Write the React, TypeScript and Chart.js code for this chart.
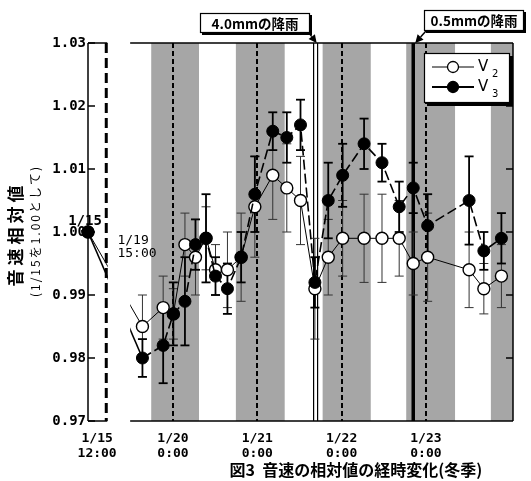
import React, { useEffect, useRef } from 'react';
import { Chart, registerables } from 'chart.js';
Chart.register(...registerables);

// time axis: hours measured from 1/20 0:00 (first entry is the 1/15 reference point on the broken part of the axis)
const timeHours = [-24.2, -8.7, -2.8, 0.1, 3.4, 6.4, 9.4, 12.1, 15.5, 19.4, 23.3, 28.4, 32.4, 36.3, 40.4, 44.2, 48.3, 54.4, 59.5, 64.4, 68.4, 72.5, 84.3, 88.5, 93.5];
const v2Values = [1.000, 0.985, 0.988, 0.987, 0.998, 0.996, 0.999, 0.994, 0.994, 0.996, 1.004, 1.009, 1.007, 1.005, 0.991, 0.996, 0.999, 0.999, 0.999, 0.999, 0.995, 0.996, 0.994, 0.991, 0.993];
const v2Errors = [0, 0.005, 0.005, 0.004, 0.005, 0.006, 0.005, 0.004, 0.006, 0.007, 0.008, 0.007, 0.007, 0.007, 0.008, 0.006, 0.006, 0.007, 0.007, 0.006, 0.005, 0.007, 0.006, 0.004, 0.005];
const v3Values = [1.000, 0.980, 0.982, 0.987, 0.989, 0.998, 0.999, 0.993, 0.991, 0.996, 1.006, 1.016, 1.015, 1.017, 0.992, 1.005, 1.009, 1.014, 1.011, 1.004, 1.007, 1.001, 1.005, 0.997, 0.999];
const v3Errors = [0, 0.003, 0.006, 0.005, 0.007, 0.004, 0.007, 0.003, 0.004, 0.004, 0.006, 0.003, 0.004, 0.004, 0.004, 0.006, 0.005, 0.004, 0.003, 0.004, 0.004, 0.005, 0.007, 0.003, 0.004];

const tickHours = [-21.6, 0, 24, 48, 72];
const tickDates = ['1/15', '1/20', '1/21', '1/22', '1/23'];
const tickTimes = ['12:00', '0:00', '0:00', '0:00', '0:00'];
const midnightHours = [0, 24, 48, 72];
const nightStart = [-6.2, 17.9, 42.6, 66.4, 90.5];
const nightEnd = [7.4, 31.8, 56.3, 80.3, 96.8];
const axisBreak = [-19.0, -12.2];
const rainHours = [40.6, 68.4];
const rainLabels = ['4.0mmの降雨', '0.5mmの降雨'];
const seriesNames = ['V', 'V'];
const seriesSubs = ['2', '3'];
const yTicks = [0.97, 0.98, 0.99, 1.0, 1.01, 1.02, 1.03];

const X_MIN = -24.2;
const X_MAX = 96.8;
const JP = '"Noto Sans CJK JP", "Noto Sans", sans-serif';
const MONO = '"DejaVu Sans Mono", monospace';

function line(ctx: CanvasRenderingContext2D, x1: number, y1: number, x2: number, y2: number) {
  ctx.beginPath();
  ctx.moveTo(x1, y1);
  ctx.lineTo(x2, y2);
  ctx.stroke();
}

function arrow(ctx: CanvasRenderingContext2D, x1: number, y1: number, x2: number, y2: number) {
  ctx.strokeStyle = '#000';
  ctx.fillStyle = '#000';
  ctx.lineWidth = 1.5;
  ctx.setLineDash([]);
  const a = Math.atan2(y2 - y1, x2 - x1);
  const hl = 8;
  const bx = x2 - hl * Math.cos(a);
  const by = y2 - hl * Math.sin(a);
  line(ctx, x1, y1, bx, by);
  ctx.beginPath();
  ctx.moveTo(x2, y2);
  ctx.lineTo(bx + 4 * Math.sin(a), by - 4 * Math.cos(a));
  ctx.lineTo(bx - 4 * Math.sin(a), by + 4 * Math.cos(a));
  ctx.closePath();
  ctx.fill();
}

function shadowBox(ctx: CanvasRenderingContext2D, x: number, y: number, w: number, h: number, s: number) {
  ctx.setLineDash([]);
  ctx.fillStyle = '#000';
  ctx.fillRect(x + s, y + s, w, h);
  ctx.fillStyle = '#fff';
  ctx.fillRect(x, y, w, h);
  ctx.strokeStyle = '#000';
  ctx.lineWidth = 1.2;
  ctx.strokeRect(x + 0.5, y + 0.5, w - 1, h - 1);
}

const backPlugin = {
  id: 'backPlugin',
  beforeDatasetsDraw(chart: any) {
    const ctx: CanvasRenderingContext2D = chart.ctx;
    const { top, bottom } = chart.chartArea;
    const xs = chart.scales.x;
    const ys = chart.scales.y;
    ctx.save();
    // night bands
    ctx.fillStyle = '#a6a6a6';
    nightStart.forEach((s, i) => {
      const x1 = xs.getPixelForValue(s);
      const x2 = xs.getPixelForValue(nightEnd[i]);
      ctx.fillRect(x1, top, x2 - x1, bottom - top);
    });
    // midnight dashed lines
    ctx.strokeStyle = '#000';
    ctx.lineWidth = 2;
    ctx.setLineDash([5, 3]);
    midnightHours.forEach((h) => {
      const x = Math.round(xs.getPixelForValue(h));
      line(ctx, x, top, x, bottom);
    });
    ctx.setLineDash([]);
    // rain lines
    const r1 = xs.getPixelForValue(rainHours[0]);
    ctx.fillStyle = '#fff';
    ctx.fillRect(r1 - 1.5, top, 3, bottom - top);
    ctx.lineWidth = 1.2;
    line(ctx, r1 - 2, top, r1 - 2, bottom);
    line(ctx, r1 + 2, top, r1 + 2, bottom);
    const r2 = xs.getPixelForValue(rainHours[1]);
    ctx.lineWidth = 3.5;
    line(ctx, r2, top, r2, bottom);
    // error bars
    const drawErr = (vals: number[], errs: number[], lw: number, color: string) => {
      ctx.strokeStyle = color;
      ctx.lineWidth = lw;
      vals.forEach((v, i) => {
        const e = errs[i];
        if (!e) return;
        const x = xs.getPixelForValue(timeHours[i]);
        const y1 = ys.getPixelForValue(v + e);
        const y2 = ys.getPixelForValue(v - e);
        line(ctx, x, y1, x, y2);
        line(ctx, x - 4.5, y1, x + 4.5, y1);
        line(ctx, x - 4.5, y2, x + 4.5, y2);
      });
    };
    drawErr(v2Values, v2Errors, 1, '#333');
    drawErr(v3Values, v3Errors, 1.8, '#000');
    ctx.restore();
  },
};

const frontPlugin = {
  id: 'frontPlugin',
  afterDatasetsDraw(chart: any) {
    const ctx: CanvasRenderingContext2D = chart.ctx;
    const { top, bottom, left, right } = chart.chartArea;
    const xs = chart.scales.x;
    const ys = chart.scales.y;
    ctx.save();
    // axis break
    const b1 = xs.getPixelForValue(axisBreak[0]);
    const b2 = xs.getPixelForValue(axisBreak[1]);
    ctx.fillStyle = '#fff';
    ctx.fillRect(b1 + 1.5, top - 3, b2 - b1 - 1.5, bottom - top + 6);
    // frame
    ctx.strokeStyle = '#000';
    ctx.lineWidth = 1.5;
    ctx.setLineDash([]);
    line(ctx, left, top, left, bottom);
    line(ctx, right, top, right, bottom);
    line(ctx, left, top, b1 + 1, top);
    line(ctx, b2, top, right, top);
    line(ctx, left, bottom, b1 + 1, bottom);
    line(ctx, b2, bottom, right, bottom);
    // inward ticks
    yTicks.forEach((t) => {
      const y = ys.getPixelForValue(t);
      line(ctx, left, y, left + 7, y);
      if (t > 0.975 && t < 1.025) line(ctx, right - 7, y, right, y);
    });
    // break dashed line (1/15 12:00)
    ctx.lineWidth = 3;
    ctx.setLineDash([10, 5]);
    line(ctx, b1, top, b1, bottom);
    ctx.setLineDash([]);

    // point labels
    ctx.fillStyle = '#000';
    ctx.textAlign = 'center';
    ctx.textBaseline = 'middle';
    ctx.font = `bold 14px ${MONO}`;
    ctx.fillText(tickDates[0], xs.getPixelForValue(timeHours[0]) - 3, ys.getPixelForValue(v3Values[0]) - 11);
    ctx.textAlign = 'left';
    ctx.font = `13px ${MONO}`;
    const p1x = xs.getPixelForValue(timeHours[1]);
    ctx.fillText('1/19', p1x - 25, 241);
    ctx.fillText('15:00', p1x - 25, 254);

    // rain annotations
    const r1 = xs.getPixelForValue(rainHours[0]);
    const r2 = xs.getPixelForValue(rainHours[1]);
    shadowBox(ctx, 200, 13, 110, 20, 2);
    shadowBox(ctx, 424, 10, 100, 21, 2);
    ctx.fillStyle = '#000';
    ctx.textAlign = 'center';
    ctx.font = `bold 13.5px ${JP}`;
    ctx.fillText(rainLabels[0], 255, 23.5);
    ctx.fillText(rainLabels[1], 474, 21);
    arrow(ctx, 309, 33, r1 + 1, top);
    arrow(ctx, 426, 31, r2 + 2, top);

    // legend
    shadowBox(ctx, 424, 53, 86, 50, 3);
    const rows = [67, 87];
    rows.forEach((ry, i) => {
      ctx.strokeStyle = '#000';
      ctx.lineWidth = i === 0 ? 1 : 1.8;
      line(ctx, 432, ry, 474, ry);
      ctx.beginPath();
      ctx.arc(453, ry, 5.5, 0, Math.PI * 2);
      ctx.fillStyle = i === 0 ? '#fff' : '#000';
      ctx.fill();
      ctx.lineWidth = 1.3;
      ctx.stroke();
      ctx.fillStyle = '#000';
      ctx.textAlign = 'left';
      ctx.font = `15px "DejaVu Sans", sans-serif`;
      ctx.fillText(seriesNames[i], 478, ry);
      ctx.font = `10px "DejaVu Sans", sans-serif`;
      ctx.fillText(seriesSubs[i], 492, ry + 7);
    });

    // axis title
    ctx.save();
    ctx.translate(16, 236);
    ctx.rotate(-Math.PI / 2);
    ctx.textAlign = 'center';
    ctx.font = `bold 17px ${JP}`;
    (ctx as any).letterSpacing = '4px';
    ctx.fillText('音速相対値', 2, 0);
    ctx.restore();
    ctx.save();
    ctx.translate(35, 232);
    ctx.rotate(-Math.PI / 2);
    ctx.textAlign = 'center';
    ctx.font = `12px ${JP}`;
    (ctx as any).letterSpacing = '2px';
    ctx.fillText('(1/15を1.00として)', 1, 0);
    ctx.restore();

    // chart caption
    ctx.textAlign = 'center';
    ctx.font = `bold 16px ${JP}`;
    ctx.fillText('図3  音速の相対値の経時変化(冬季)', 356, 470);
    ctx.restore();
  },
};

export default function App() {
  const ref = useRef<HTMLCanvasElement>(null);
  useEffect(() => {
    const canvas = ref.current;
    if (!canvas) return;
    const chart = new Chart(canvas, {
      type: 'line',
      data: {
        datasets: [
          {
            label: 'V3',
            data: timeHours.map((x, i) => ({ x, y: v3Values[i] })),
            order: 0,
            borderColor: '#000',
            borderWidth: 1.6,
            borderDash: [10, 4],
            segment: { borderDash: (c: any) => (c.p0DataIndex === 0 ? [] : undefined) },
            pointRadius: 6,
            pointBackgroundColor: '#000',
            pointBorderColor: '#000',
            pointBorderWidth: 1,
            tension: 0,
            clip: false,
          } as any,
          {
            label: 'V2',
            data: timeHours.map((x, i) => ({ x, y: v2Values[i] })),
            order: 1,
            borderColor: '#000',
            borderWidth: 1,
            pointRadius: 6,
            pointBackgroundColor: '#fff',
            pointBorderColor: '#000',
            pointBorderWidth: 1.4,
            tension: 0,
            clip: false,
          } as any,
        ],
      },
      options: {
        animation: false,
        responsive: false,
        events: [],
        layout: { padding: { top: 43, right: 18, left: 0, bottom: 0 } },
        plugins: { legend: { display: false }, tooltip: { enabled: false }, title: { display: false } },
        scales: {
          x: {
            type: 'linear',
            min: X_MIN,
            max: X_MAX,
            grid: { display: false, drawTicks: false },
            border: { display: false },
            afterBuildTicks: (s: any) => {
              s.ticks = tickHours.map((v) => ({ value: v }));
            },
            afterFit: (s: any) => {
              s.height = 60;
            },
            ticks: {
              autoSkip: false,
              maxRotation: 0,
              minRotation: 0,
              padding: 10,
              color: '#000',
              font: { family: MONO, size: 13, weight: 'bold', lineHeight: 1.15 },
              callback: (_v: any, i: number) => [tickDates[i], tickTimes[i]],
            },
          },
          y: {
            min: 0.97,
            max: 1.03,
            grid: { display: false, drawTicks: false },
            border: { display: false },
            afterBuildTicks: (s: any) => {
              s.ticks = yTicks.map((v) => ({ value: v }));
            },
            afterFit: (s: any) => {
              s.width = 88;
            },
            ticks: {
              padding: 2,
              color: '#000',
              font: { family: MONO, size: 14, weight: 'bold' },
              callback: (v: any) => Number(v).toFixed(2),
            },
          },
        },
      } as any,
      plugins: [backPlugin, frontPlugin],
    });
    return () => chart.destroy();
  }, []);
  return (
    <div style={{ position: 'absolute', left: 0, top: 0, width: 531, height: 481, background: '#fff' }}>
      <canvas ref={ref} width={531} height={481} style={{ display: 'block', width: 531, height: 481 }} />
    </div>
  );
}
